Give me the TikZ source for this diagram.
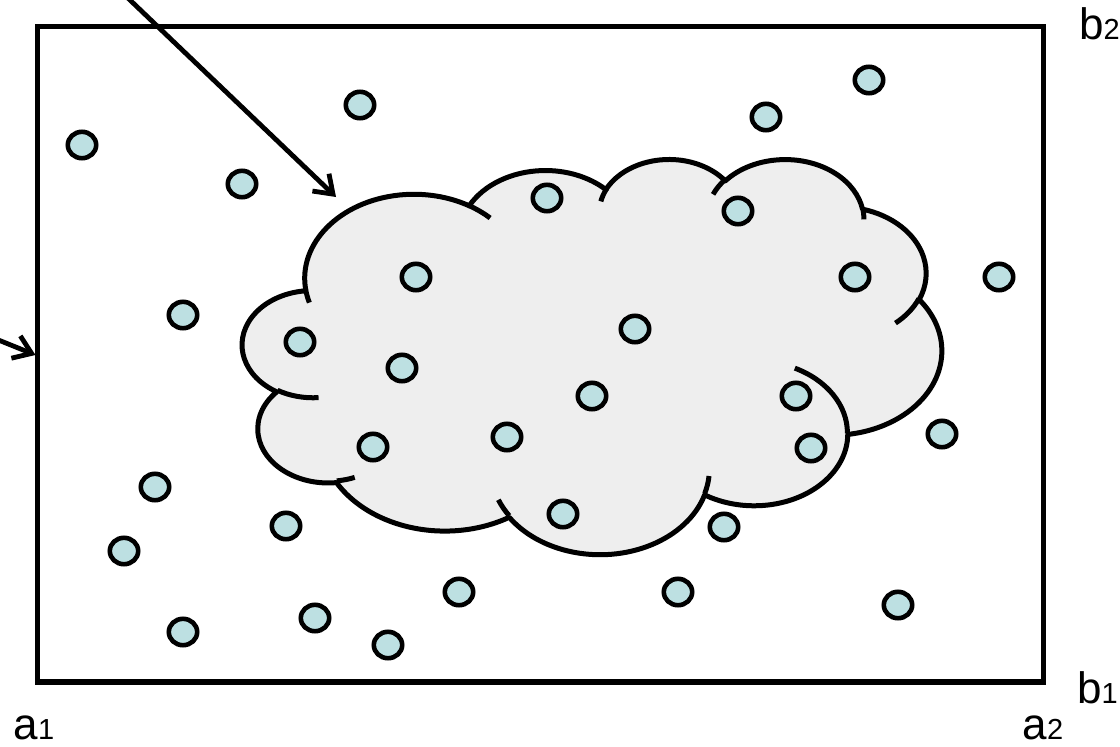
\documentclass[tikz,border=0pt]{standalone}
\usepackage{fontspec}
\setmainfont{Liberation Sans}
\usetikzlibrary{arrows.meta,shapes.geometric}
\definecolor{dotfill}{RGB}{189,224,226}
\definecolor{cloudfill}{RGB}{238,238,238}
\tikzset{
  frame/.style={draw=black,line width=5.2pt},
  cloudbody/.style={fill=cloudfill,draw=black,line width=5pt,line join=round},
  cloudline/.style={draw=black,line width=5pt},
  dot/.style={ellipse,draw=black,fill=dotfill,line width=4.6pt,minimum width=28.4pt,minimum height=26.4pt,inner sep=0pt},
  pointer/.style={draw=black,line width=4.8pt,-{Straight Barb[length=17pt,width=24pt]}},
  lbl/.style={anchor=base west,inner sep=0pt,font=\fontsize{44}{44}\selectfont},
}
\newcommand{\subsz}{\fontsize{29}{29}\selectfont}
\begin{document}
\begin{tikzpicture}[x=1pt,y=1pt,yscale=-1]
\useasboundingbox (0,0) rectangle (1120,747);
% frame
\draw[frame] (37.8,26.3) rectangle (1043.3,682);
% cloud
\begin{scope}[shift={(242.6,158.2)},xscale=1.618,yscale=0.9146]
\path[cloudbody] (39,143.7)
 arc[start angle=172.26,end angle=300.37,x radius=67.53,y radius=91.90]
 arc[start angle=-152.02,end angle=-45.47,x radius=53.33,y radius=72.67]
 arc[start angle=-153.49,end angle=-37.33,x radius=43.65,y radius=59.45]
 arc[start angle=-139.72,end angle=-10.22,x radius=48.57,y radius=65.95]
 arc[start angle=-74.77,end angle=23.21,x radius=53.33,y radius=72.73]
 arc[start angle=-37.52,end angle=81.86,x radius=67.75,y radius=92.20]
 arc[start angle=0.46,end angle=121.98,x radius=57.85,y radius=78.67]
 arc[start angle=16.85,end angle=146.22,x radius=67.52,y radius=92.15]
 arc[start angle=58.98,end angle=150.19,x radius=77.20,y radius=105.43]
 arc[start angle=83.31,end angle=223.12,x radius=43.60,y radius=59.18]
 arc[start angle=120.36,end angle=264.11,x radius=43.45,y radius=59.45]
 -- cycle;
\path[cloudline]
 (46.93,261.77) arc[start angle=85.54,end angle=120.36,x radius=43.45,y radius=59.45]
 (69.28,348.99) arc[start angle=68.23,end angle=83.31,x radius=43.60,y radius=59.18]
 (164.78,390.9) arc[start angle=146.22,end angle=158.47,x radius=67.52,y radius=92.15]
 (288.27,347.51) arc[start angle=4.74,end angle=16.85,x radius=67.52,y radius=92.15]
 (341.29,229.54) arc[start angle=-64.02,end angle=0.46,x radius=57.85,y radius=78.67]
 (417.98,153.54) arc[start angle=23.21,end angle=49.64,x radius=53.33,y radius=72.73]
 (383.24,54.26) arc[start angle=-10.22,end angle=0.82,x radius=48.57,y radius=65.95]
 (290.78,39.52) arc[start angle=-156.29,end angle=-139.72,x radius=48.57,y radius=65.95]
 (221.41,47.2) arc[start angle=-167.72,end angle=-153.49,x radius=43.65,y radius=59.45]
 (140,51.92) arc[start angle=-59.63,end angle=-45.74,x radius=67.53,y radius=91.90]
 (41.27,157.89) arc[start angle=163.19,end angle=172.25,x radius=67.53,y radius=91.90];
\end{scope}
% dots
\foreach \p [count=\i] in {(82,145),(360,105),(242,184),(183,315),(416,277),(300,342),(402,368),(373,447),(155,487),(124,551),(286,526),(183,632),(315,618),(388,645),(459,592),(507,437),(547,198),(635,329),(592,396),(563,514),(678,592),(724,527),(766,117),(738,211),(869,80),(855,277),(999,277),(796,396),(811,448),(942,434),(898,605)}
  \node[dot] (c\i) at \p {};
% pointers
\coordinate (p1s) at (119.5,-10);
\coordinate (p1e) at (336,197);
\coordinate (p2s) at (-10,336.6);
\coordinate (p2e) at (35.5,355);
\draw[pointer] (p1s) -- (p1e);
\draw[pointer] (p2s) -- (p2e);
% labels
\node[lbl] (la1) at (13.5,739) {a{\subsz 1}};
\node[lbl] (la2) at (1022.5,739) {a{\subsz 2}};
\node[lbl] (lb1) at (1077,703) {b{\subsz 1}};
\node[lbl] (lb2) at (1079,39) {b{\subsz 2}};
\end{tikzpicture}
\end{document}
